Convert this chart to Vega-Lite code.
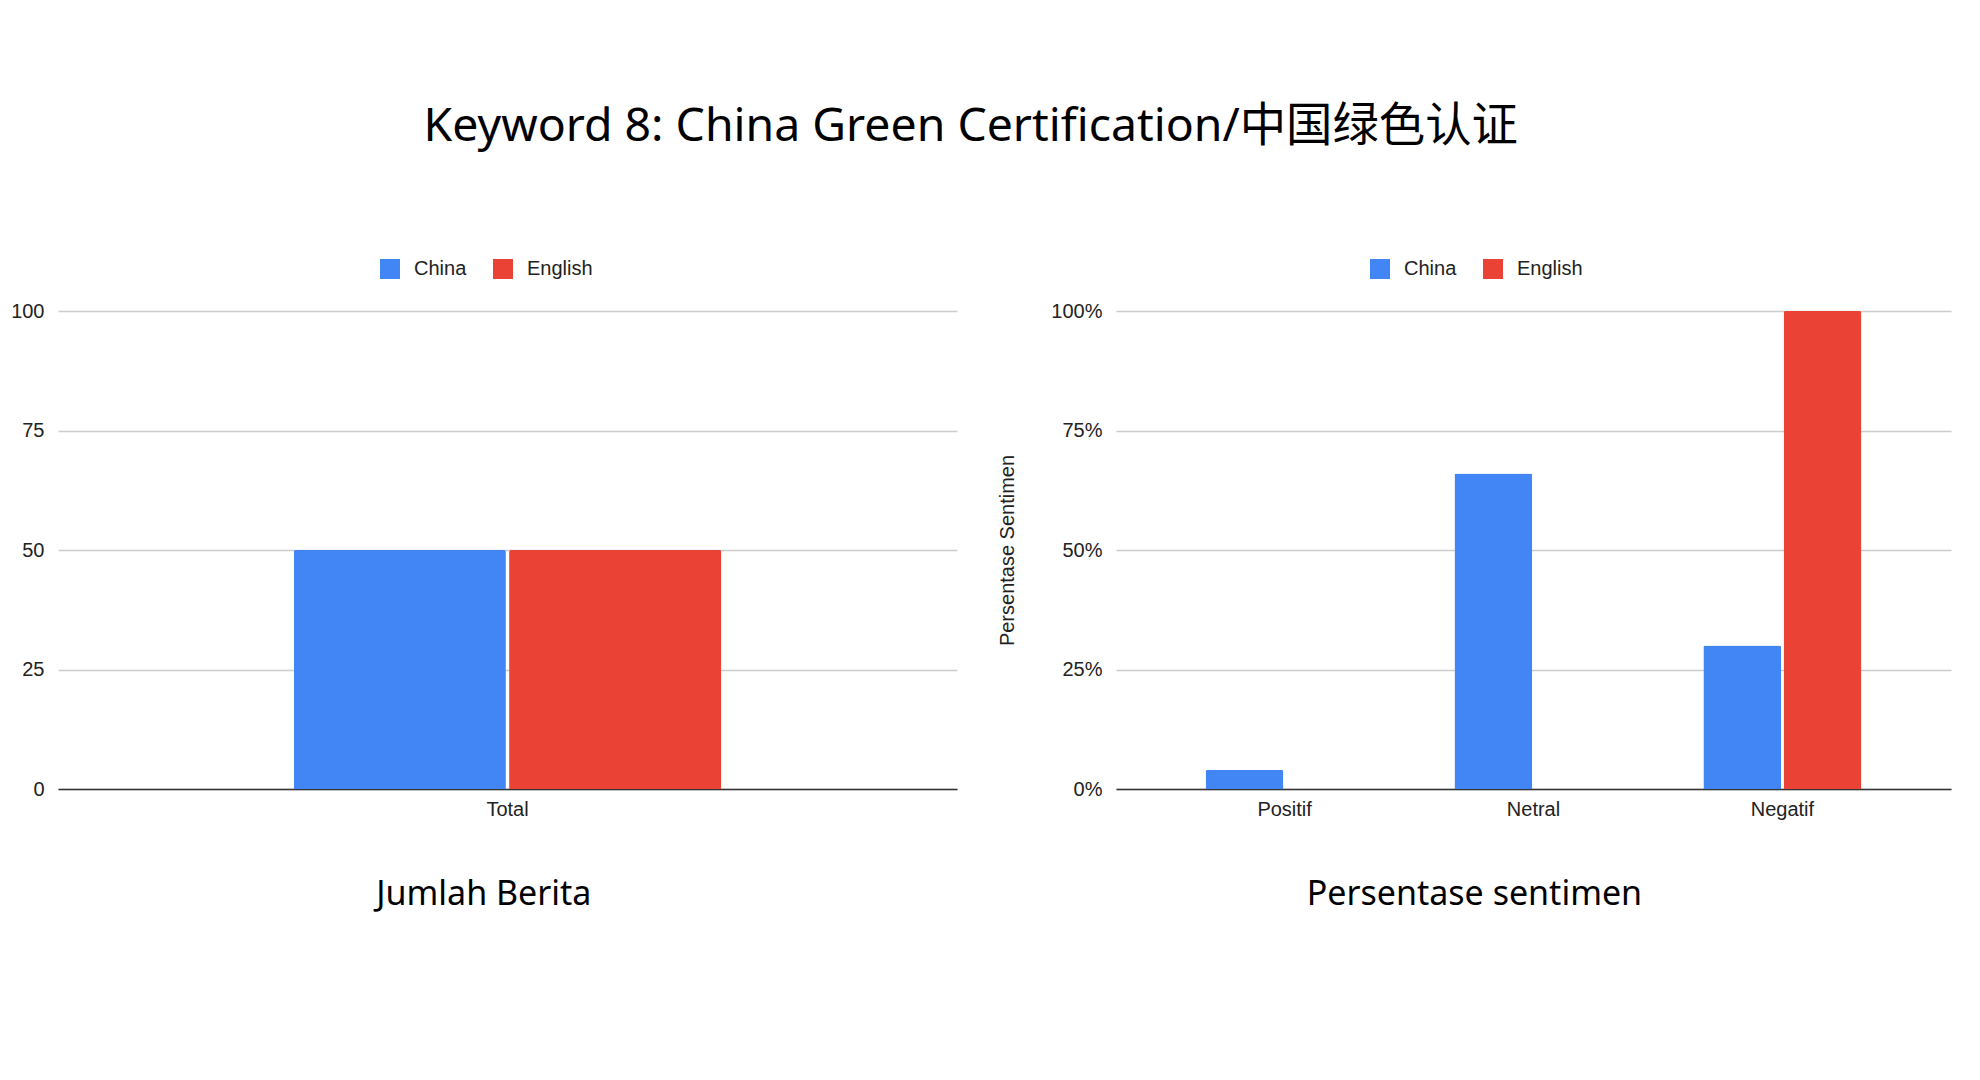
{
  "$schema": "https://vega.github.io/schema/vega-lite/v6.json",
  "background": "white",
  "padding": {"left": 10, "top": 103, "right": 30, "bottom": 60},
  "title": {
    "text": "Keyword 8: China Green Certification/中国绿色认证",
    "font": "Noto Sans, Noto Sans CJK SC",
    "fontSize": 46.4,
    "fontWeight": "normal",
    "color": "#000000",
    "anchor": "middle",
    "dx": -10,
    "offset": 109
  },
  "datasets": {
    "jumlah": [
      {"kategori": "Total", "bahasa": "China", "nilai": 50},
      {"kategori": "Total", "bahasa": "English", "nilai": 50}
    ],
    "sentimen": [
      {"kategori": "Positif", "bahasa": "China", "nilai": 0.04},
      {"kategori": "Positif", "bahasa": "English", "nilai": 0},
      {"kategori": "Netral", "bahasa": "China", "nilai": 0.66},
      {"kategori": "Netral", "bahasa": "English", "nilai": 0},
      {"kategori": "Negatif", "bahasa": "China", "nilai": 0.30},
      {"kategori": "Negatif", "bahasa": "English", "nilai": 1.0}
    ]
  },
  "resolve": {"legend": {"color": "independent"}, "scale": {"xOffset": "independent"}},
  "spacing": 40,
  "hconcat": [
    {
      "width": 899,
      "height": 478,
      "data": {"name": "jumlah"},
      "title": {"text": "Jumlah Berita", "orient": "bottom", "frame": "bounds", "anchor": "middle", "offset": 59, "fontSize": 34},
      "mark": {"type": "bar", "cornerRadiusTopLeft": 2, "cornerRadiusTopRight": 2},
      "encoding": {
        "x": {"field": "kategori", "type": "nominal", "title": null,
              "scale": {"paddingInner": 0.365, "paddingOuter": 0.35},
              "axis": {"labelAngle": 0}},
        "xOffset": {"field": "bahasa", "type": "nominal", "sort": ["China", "English"], "scale": {"paddingInner": 0.015}},
        "y": {"field": "nilai", "type": "quantitative", "title": null,
              "scale": {"domain": [0, 100]},
              "axis": {"values": [0, 25, 50, 75, 100]}},
        "color": {"field": "bahasa", "type": "nominal", "sort": ["China", "English"],
                  "scale": {"domain": ["China", "English"], "range": ["#4285F4", "#EA4335"]},
                  "legend": {"title": null, "orient": "none", "direction": "horizontal", "legendX": 322, "legendY": -52}}
      }
    },
    {
      "width": 835,
      "height": 478,
      "data": {"name": "sentimen"},
      "title": {"text": "Persentase sentimen", "orient": "bottom", "frame": "bounds", "anchor": "middle", "offset": 59, "fontSize": 34},
      "mark": {"type": "bar", "cornerRadiusTopLeft": 2, "cornerRadiusTopRight": 2},
      "encoding": {
        "x": {"field": "kategori", "type": "nominal", "title": null, "sort": ["Positif", "Netral", "Negatif"],
              "scale": {"paddingInner": 0.365, "paddingOuter": 0.36},
              "axis": {"labelAngle": 0}},
        "xOffset": {"field": "bahasa", "type": "nominal", "sort": ["China", "English"], "scale": {"paddingInner": 0.03}},
        "y": {"field": "nilai", "type": "quantitative", "title": "Persentase Sentimen",
              "scale": {"domain": [0, 1]},
              "axis": {"values": [0, 0.25, 0.5, 0.75, 1], "format": ".0%"}},
        "color": {"field": "bahasa", "type": "nominal", "sort": ["China", "English"],
                  "scale": {"domain": ["China", "English"], "range": ["#4285F4", "#EA4335"]},
                  "legend": {"title": null, "orient": "none", "direction": "horizontal", "legendX": 254, "legendY": -52}}
      }
    }
  ],
  "config": {
    "view": {"stroke": null},
    "font": "Liberation Sans",
    "title": {"font": "Noto Sans", "fontWeight": "normal", "color": "#000000"},
    "axis": {
      "labelFont": "Liberation Sans",
      "labelFontSize": 20,
      "labelColor": "#222222",
      "titleFont": "Liberation Sans",
      "titleFontSize": 20,
      "titleFontWeight": "normal",
      "titleColor": "#222222",
      "ticks": false,
      "domain": false,
      "gridColor": "#cccccc",
      "gridWidth": 1.3
    },
    "axisY": {"labelPadding": 14, "titlePadding": 33},
    "axisX": {"labelPadding": 10, "domain": true, "domainColor": "#333333", "domainWidth": 1.5, "grid": false},
    "legend": {
      "labelFont": "Liberation Sans",
      "labelFontSize": 20,
      "labelColor": "#222222",
      "symbolType": "square",
      "symbolSize": 400,
      "symbolStrokeWidth": 0,
      "columnPadding": 26,
      "labelOffset": 14
    }
  }
}
